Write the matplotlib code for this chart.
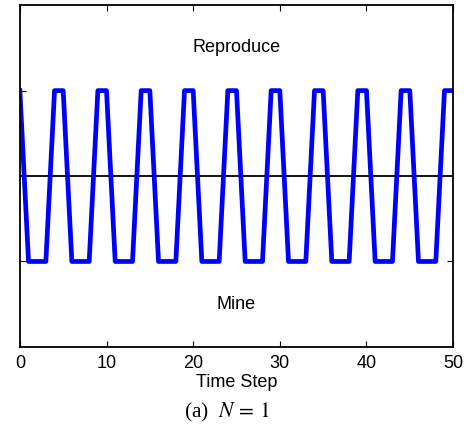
import matplotlib
matplotlib.use('Agg')
import matplotlib.pyplot as plt

# signal, one value per time step
time_step = list(range(51))
signal = [0.5, -0.5, -0.5, -0.5, 0.5,
          0.5, -0.5, -0.5, -0.5, 0.5,
          0.5, -0.5, -0.5, -0.5, 0.5,
          0.5, -0.5, -0.5, -0.5, 0.5,
          0.5, -0.5, -0.5, -0.5, 0.5,
          0.5, -0.5, -0.5, -0.5, 0.5,
          0.5, -0.5, -0.5, -0.5, 0.5,
          0.5, -0.5, -0.5, -0.5, 0.5,
          0.5, -0.5, -0.5, -0.5, 0.5,
          0.5, -0.5, -0.5, -0.5, 0.5,
          0.5]
xticks = [0, 10, 20, 30, 40, 50]
yticks = [-0.5, 0.5]

plt.rcParams['font.family'] = 'Liberation Sans'
plt.rcParams['mathtext.fontset'] = 'stix'

fig = plt.figure(figsize=(4.73, 4.32), dpi=100)
ax = fig.add_axes([0.042, 0.197, 0.916, 0.791])

ax.axhline(0, color='black', lw=1.3, zorder=1)
ax.plot(time_step, signal, color='#0000ff', lw=3.4, zorder=2)

ax.text(25, 0.75, 'Reproduce', ha='center', va='center', fontsize=13)
ax.text(25, -0.75, 'Mine', ha='center', va='center', fontsize=13)

ax.set_xlim(0, 50)
ax.set_ylim(-1, 1)
ax.set_xticks(xticks)
ax.set_yticks(yticks)
ax.set_yticklabels([])
ax.tick_params(direction='in', length=4, width=0.8, top=True, right=True,
               labelsize=13, pad=6)
for s in ax.spines.values():
    s.set_linewidth(1.3)
ax.set_xlabel('Time Step', fontsize=13, labelpad=1.6)

fig.text(0.48, 0.045, r'(a)  $N\,=\,1$', ha='center', va='center',
         fontsize=15.5, family='Liberation Serif')

plt.savefig('out.png', dpi=100)
